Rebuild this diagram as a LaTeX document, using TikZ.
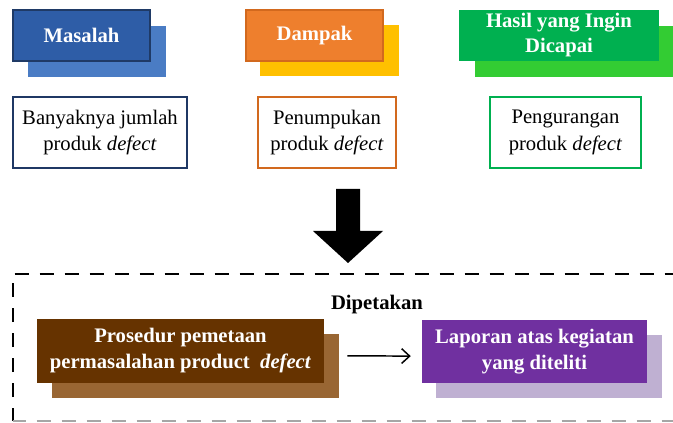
\documentclass[tikz,border=0pt]{standalone}
\usepackage{fontspec}
\setmainfont{Liberation Serif}
\usetikzlibrary{arrows.meta}

\newdimen\pxu \pxu=0.75pt

\definecolor{biruTua}{HTML}{2E5DA7}
\definecolor{biruGaris}{HTML}{1F3A66}
\definecolor{biruMuda}{HTML}{4A7CC4}
\definecolor{biruTeks}{HTML}{1F3864}
\definecolor{oranye}{HTML}{EE7F2D}
\definecolor{oranyeGaris}{HTML}{D2691E}
\definecolor{kuning}{HTML}{FFC000}
\definecolor{hijauTua}{HTML}{00B050}
\definecolor{hijauMuda}{HTML}{33CC33}
\definecolor{coklatTua}{HTML}{663300}
\definecolor{coklatMuda}{HTML}{996633}
\definecolor{ungu}{HTML}{7030A0}
\definecolor{unguMuda}{HTML}{BFB0D2}

\tikzset{
  judul/.style={inner sep=0pt, text=white, align=center,
    font=\fontsize{15.5}{18.75}\selectfont\bfseries},
  bayang/.style={inner sep=0pt},
  isi/.style={draw, line width=1.5pt, fill=white, inner sep=0pt, align=center,
    font=\fontsize{15.5}{20}\selectfont},
  panah/.style={line width=1.1pt, -{Straight Barb[length=6pt,width=11pt]},
    shorten <=17.25pt, shorten >=8.25pt},
  garisputus/.style={line width=1.5pt, dash pattern=on 10.5pt off 8.25pt, dash phase=-18pt}
}

\begin{document}
\begin{tikzpicture}[x=0.75pt, y=-0.75pt]
    \clip (0,0) rectangle (673,423);

    % box masalah
    \node[bayang, fill=biruMuda, minimum width=138\pxu, minimum height=51\pxu] (masalahbg) at (97,51.5) {};
    \node[judul, fill=biruTua, draw=biruGaris, line width=1.5pt, minimum width=137\pxu, minimum height=51\pxu] (masalah) at (81.5,35.5) {Masalah};

    % box dampak
    \node[bayang, fill=kuning, minimum width=139\pxu, minimum height=51\pxu] (dampakbg) at (329.5,50.5) {};
    \node[judul, fill=oranye, draw=oranyeGaris, line width=1pt, minimum width=137\pxu, minimum height=51\pxu] (dampak) at (314.5,35.5) {Dampak};

    % box hasil
    \node[bayang, fill=hijauMuda, minimum width=200\pxu, minimum height=51\pxu] (hasilbg) at (575,51.5) {};
    \node[judul, fill=hijauTua, minimum width=200\pxu, minimum height=51\pxu] (hasil) at (559,35.5) {Hasil yang Ingin\\Dicapai};

    % text boxes
    \node[isi, draw=biruTeks, minimum width=174\pxu, minimum height=71\pxu] (masalahisi) at (100,132.5) {Banyaknya jumlah\\produk \textit{defect}};
    \node[isi, draw=oranyeGaris, minimum width=138\pxu, minimum height=71\pxu] (dampakisi) at (327,132.5) {Penumpukan\\produk \textit{defect}};
    \node[isi, draw=hijauTua, minimum width=151\pxu, minimum height=71\pxu] (hasilisi) at (565.5,132.5) {Pengurangan\\produk \textit{defect}};

    % big arrow
    \fill (336,189) -- (360,189) -- (360,231) -- (383,231) -- (348,263)
        -- (313,231) -- (336,231) -- cycle;

    % dashed area
    \draw[garisputus] (12.5,421) |- (690,274);
    \draw[garisputus, black!35] (12.5,421) -- (690,421);

    % label dipetakan
    \node[font=\fontsize{15.5}{18}\selectfont\bfseries] (dipetakan) at (377,305) {Dipetakan};

    % box prosedur
    \node[bayang, fill=coklatMuda, minimum width=287\pxu, minimum height=64\pxu] (coklatbg) at (195.5,366) {};
    \node[judul, fill=coklatTua, minimum width=287\pxu, minimum height=64\pxu, font=\fontsize{15.5}{19.5}\selectfont\bfseries] (coklat) at (180.5,351) {Prosedur pemetaan\\permasalahan product\enspace\textit{defect}};

    % box laporan
    \node[bayang, fill=unguMuda, minimum width=226\pxu, minimum height=63\pxu] (ungubg) at (549,366.5) {};
    \node[judul, fill=ungu, minimum width=225\pxu, minimum height=63\pxu, font=\fontsize{15.5}{19.5}\selectfont\bfseries] (laporan) at (534.5,351.5) {Laporan atas kegiatan\\yang diteliti};

    % arrow
    \draw[panah] ([yshift=-3.5pt]coklat.east) -- ([yshift=-3.5pt]laporan.west);
\end{tikzpicture}
\end{document}
